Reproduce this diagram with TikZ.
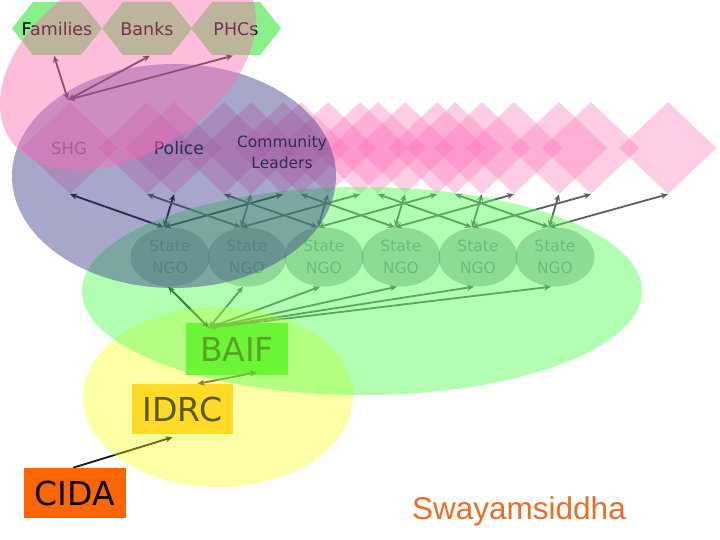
\documentclass[tikz,border=0pt]{standalone}
\usepackage{fontspec}
\setmainfont{DejaVu Sans}
\newfontfamily\swayfont{Liberation Sans}
\usetikzlibrary{shapes.geometric,arrows.meta}
\pgfdeclarelayer{hexl}
\pgfdeclarelayer{diam}
\pgfdeclarelayer{boxl}
\pgfdeclarelayer{arrl}
\pgfdeclarelayer{ellone}
\pgfdeclarelayer{elltwo}
\pgfdeclarelayer{topl}
\pgfsetlayers{hexl,diam,boxl,arrl,ellone,main,elltwo,topl}
\definecolor{hexgreen}{RGB}{136,240,136}
\definecolor{pinkell}{RGB}{255,110,180}
\definecolor{blueell}{RGB}{60,60,140}
\definecolor{greenell}{RGB}{85,255,85}
\definecolor{yellowell}{RGB}{255,255,0}
\definecolor{diapink}{RGB}{255,115,185}
\definecolor{ngofill}{RGB}{60,140,80}
\definecolor{ngotext}{RGB}{60,140,80}
\definecolor{baiffill}{RGB}{60,230,40}
\definecolor{idrcfill}{RGB}{255,200,60}
\definecolor{cidafill}{RGB}{255,102,0}
\definecolor{swaycol}{RGB}{235,110,35}
\definecolor{arrgrey}{RGB}{95,95,95}
\definecolor{arrdk}{RGB}{25,25,35}
\definecolor{hexarr}{RGB}{50,50,50}
\definecolor{shgtext}{RGB}{110,110,110}
\definecolor{dlbltext}{RGB}{35,30,45}
\begin{document}
\begin{tikzpicture}[x=1pt,y=-1pt,
  hexlbl/.style={minimum width=90pt,minimum height=53pt,inner sep=0pt,text=black,font=\fontsize{17.5}{20}\selectfont},
  dia/.style={diamond,fill=diapink,fill opacity=0.35,minimum width=97pt,minimum height=92pt,inner sep=0pt},
  dlbl/.style={inner sep=0pt,align=center,text=dlbltext},
  ngo/.style={ellipse,fill=ngofill,fill opacity=0.3,text=ngotext,text opacity=0.4,minimum width=79pt,minimum height=59pt,inner sep=0pt,align=center,font=\fontsize{15.5}{22}\selectfont},
  box/.style={rectangle,inner sep=0pt,minimum width=102pt,minimum height=51pt,text=black,font=\fontsize{33}{36}\selectfont},
  arr/.style={>={Stealth[length=7pt,width=6pt]},<->,line width=1.8pt,draw=arrgrey},
  onearr/.style={>={Stealth[length=7pt,width=6pt]},->,line width=1.8pt,draw=arrdk}]
\useasboundingbox (0,0) rectangle (720,540);

% ---------- background, hexagons ----------
\begin{pgfonlayer}{hexl}
\fill[white] (0,0) rectangle (720,540);
\foreach \cx in {57,147,236}{
  \fill[hexgreen] (\cx-45,28.5) -- (\cx-24,2) -- (\cx+24,2) -- (\cx+45,28.5) -- (\cx+24,55) -- (\cx-24,55) -- cycle;
}
\node[hexlbl] (fam) at (57,29) {Families};
\node[hexlbl] (bank) at (147,29) {Banks};
\node[hexlbl] (phc) at (236,29) {PHCs};
\end{pgfonlayer}

% ---------- diamonds ----------
\begin{pgfonlayer}{diam}
\foreach \i/\x in {1/170,2/247,3/324,4/401,5/478,6/555}{
  \node[dia] (s\i) at (\x-100,148) {};
  \node[dia] (p\i) at (\x+4,148) {};
  \node[dia] (c\i) at (\x+113,148) {};
}
\node[dlbl,text=shgtext,font=\fontsize{16.5}{19}\selectfont] (shgl) at (69,148) {SHG};
\node[dlbl,font=\fontsize{17.3}{20}\selectfont] (poll) at (179,148) {Police};
\node[dlbl,font=\fontsize{15.5}{21}\selectfont] (coml) at (282,152) {Community\\Leaders};
\end{pgfonlayer}

% ---------- boxes ----------
\begin{pgfonlayer}{boxl}
\node[box,fill=idrcfill,minimum width=101pt,minimum height=50pt] (idrc) at (182.5,409) {IDRC};
\node[box,fill=baiffill,minimum height=52pt] (baif) at (237,349) {BAIF};
\end{pgfonlayer}
\begin{pgfonlayer}{topl}
\node[box,fill=cidafill,minimum height=50pt] (cida) at (75,493) {CIDA};
\node[text=swaycol,font=\swayfont\fontsize{31.5}{34}\selectfont,anchor=base west,inner sep=0pt] (sway) at (412,519) {Swayamsiddha};
\end{pgfonlayer}

% ---------- State NGO nodes ----------
\foreach \i/\x in {1/170,2/247,3/324,4/401,5/478,6/555}{
  \node[ngo] (n\i) at (\x,257) {State\\NGO};
}

% ---------- connectors ----------
\begin{pgfonlayer}{arrl}
\draw[arr,draw=hexarr] ([xshift=-2pt,yshift=2pt]s1.north) -- ([xshift=-3pt]fam.south);
\draw[arr,draw=hexarr] ([xshift=-2pt,yshift=2pt]s1.north) -- ([xshift=3pt]bank.south);
\draw[arr,draw=hexarr] ([xshift=-2pt,yshift=2pt]s1.north) -- ([xshift=-3pt]phc.south);
\draw[arr,draw=arrdk] ([xshift=-6pt]n1.north) -- (s1.south);
\draw[arr,draw=arrdk] ([xshift=-6pt]n1.north) -- (p1.south);
\draw[arr,draw=arrdk] ([xshift=-6pt]n1.north) -- (c1.south);
\foreach \i in {2,...,6}{
  \draw[arr] ([xshift=-6pt]n\i.north) -- (s\i.south);
  \draw[arr] ([xshift=-6pt]n\i.north) -- (p\i.south);
  \draw[arr] ([xshift=-6pt]n\i.north) -- (c\i.south);
}
\draw[arr,draw=arrdk] ([xshift=-28pt,yshift=-5pt]baif.north) -- ([xshift=-2pt]n1.south);
\foreach \i in {2,...,6}{
  \draw[arr] ([xshift=-28pt,yshift=-5pt]baif.north) -- ([xshift=-4pt]n\i.south);
}
\draw[arr,draw=arrgrey!70!black] ([xshift=15pt]idrc.north) -- ([xshift=20pt,yshift=3pt]baif.south);
\draw[onearr] ([xshift=-2pt]cida.north) -- ([xshift=-10pt,yshift=-3pt]idrc.south);
\end{pgfonlayer}

% ---------- translucent groupings ----------
\begin{pgfonlayer}{ellone}
\fill[yellowell,opacity=0.35] (218,397) ellipse [x radius=135, y radius=90];
\fill[greenell,opacity=0.45] (362,291) ellipse [x radius=280, y radius=104];
\end{pgfonlayer}
\begin{pgfonlayer}{elltwo}
\fill[blueell,opacity=0.45] (174,176) ellipse [x radius=162, y radius=112];
\fill[pinkell,opacity=0.45,rotate around={33:(128,62)}] (128,62) ellipse [x radius=141, y radius=90];
\end{pgfonlayer}
\end{tikzpicture}
\end{document}
